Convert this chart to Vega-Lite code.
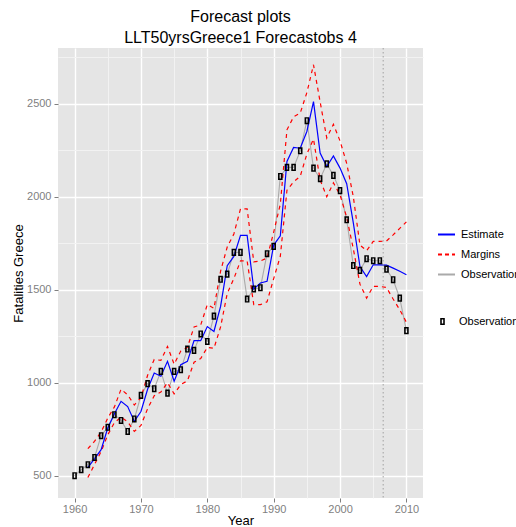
{
  "$schema": "https://vega.github.io/schema/vega-lite/v6.json",
  "width": 365,
  "height": 450,
  "autosize": "none",
  "padding": {"left": 58, "top": 48, "right": 93, "bottom": 29},
  "background": "white",
  "title": {
    "text": ["Forecast plots", "LLT50yrsGreece1 Forecastobs 4"],
    "font": "Liberation Sans",
    "fontSize": 16,
    "fontWeight": "normal",
    "color": "black",
    "lineHeight": 21,
    "offset": 2,
    "anchor": "middle"
  },
  "config": {
    "view": {"fill": "#E5E5E5", "stroke": null},
    "axis": {
      "labelFont": "Liberation Sans",
      "labelFontSize": 11,
      "labelColor": "#7F7F7F",
      "titleFont": "Liberation Sans",
      "titleFontSize": 13,
      "titleFontWeight": "normal",
      "titleColor": "black",
      "tickColor": "#7F7F7F",
      "tickSize": 4,
      "domain": false,
      "gridColor": "#FFFFFF",
      "gridWidth": 1.4
    },
    "legend": {
      "labelFont": "Liberation Sans",
      "labelFontSize": 11,
      "labelColor": "black"
    }
  },
  "datasets": {
    "fc": [
      {"Year": 1960, "Observed": 500, "Estimate": null, "Upper": null, "Lower": null},
      {"Year": 1961, "Observed": 532, "Estimate": null, "Upper": null, "Lower": null},
      {"Year": 1962, "Observed": 559, "Estimate": 545, "Upper": 645, "Lower": 490},
      {"Year": 1963, "Observed": 598, "Estimate": 590, "Upper": 685, "Lower": 560},
      {"Year": 1964, "Observed": 715, "Estimate": 640, "Upper": 735, "Lower": 630},
      {"Year": 1965, "Observed": 760, "Estimate": 756, "Upper": 810, "Lower": 720},
      {"Year": 1966, "Observed": 828, "Estimate": 833, "Upper": 870, "Lower": 785},
      {"Year": 1967, "Observed": 797, "Estimate": 900, "Upper": 965, "Lower": 815},
      {"Year": 1968, "Observed": 738, "Estimate": 872, "Upper": 935, "Lower": 790},
      {"Year": 1969, "Observed": 805, "Estimate": 792, "Upper": 880, "Lower": 738},
      {"Year": 1970, "Observed": 932, "Estimate": 845, "Upper": 920, "Lower": 770},
      {"Year": 1971, "Observed": 995, "Estimate": 965, "Upper": 1040, "Lower": 860},
      {"Year": 1972, "Observed": 968, "Estimate": 1052, "Upper": 1125, "Lower": 930},
      {"Year": 1973, "Observed": 1061, "Estimate": 1035, "Upper": 1120, "Lower": 950},
      {"Year": 1974, "Observed": 944, "Estimate": 1115, "Upper": 1195, "Lower": 1000},
      {"Year": 1975, "Observed": 1061, "Estimate": 1008, "Upper": 1100, "Lower": 940},
      {"Year": 1976, "Observed": 1070, "Estimate": 1097, "Upper": 1170, "Lower": 990},
      {"Year": 1977, "Observed": 1181, "Estimate": 1115, "Upper": 1190, "Lower": 1010},
      {"Year": 1978, "Observed": 1174, "Estimate": 1226, "Upper": 1300, "Lower": 1110},
      {"Year": 1979, "Observed": 1262, "Estimate": 1226, "Upper": 1310, "Lower": 1130},
      {"Year": 1980, "Observed": 1222, "Estimate": 1302, "Upper": 1420, "Lower": 1190},
      {"Year": 1981, "Observed": 1358, "Estimate": 1276, "Upper": 1400, "Lower": 1185},
      {"Year": 1982, "Observed": 1556, "Estimate": 1410, "Upper": 1600, "Lower": 1300},
      {"Year": 1983, "Observed": 1584, "Estimate": 1629, "Upper": 1730, "Lower": 1480},
      {"Year": 1984, "Observed": 1701, "Estimate": 1679, "Upper": 1800, "Lower": 1560},
      {"Year": 1985, "Observed": 1701, "Estimate": 1792, "Upper": 1935, "Lower": 1655},
      {"Year": 1986, "Observed": 1450, "Estimate": 1792, "Upper": 1935, "Lower": 1655},
      {"Year": 1987, "Observed": 1504, "Estimate": 1504, "Upper": 1650, "Lower": 1420},
      {"Year": 1988, "Observed": 1511, "Estimate": 1536, "Upper": 1655, "Lower": 1420},
      {"Year": 1989, "Observed": 1694, "Estimate": 1545, "Upper": 1670, "Lower": 1435},
      {"Year": 1990, "Observed": 1733, "Estimate": 1740, "Upper": 1810, "Lower": 1560},
      {"Year": 1991, "Observed": 2109, "Estimate": 1790, "Upper": 1960, "Lower": 1680},
      {"Year": 1992, "Observed": 2158, "Estimate": 2190, "Upper": 2360, "Lower": 2035},
      {"Year": 1993, "Observed": 2158, "Estimate": 2265, "Upper": 2430, "Lower": 2080},
      {"Year": 1994, "Observed": 2247, "Estimate": 2261, "Upper": 2450, "Lower": 2110},
      {"Year": 1995, "Observed": 2409, "Estimate": 2351, "Upper": 2560, "Lower": 2230},
      {"Year": 1996, "Observed": 2154, "Estimate": 2512, "Upper": 2710, "Lower": 2310},
      {"Year": 1997, "Observed": 2097, "Estimate": 2235, "Upper": 2510, "Lower": 2090},
      {"Year": 1998, "Observed": 2177, "Estimate": 2163, "Upper": 2316, "Lower": 2000},
      {"Year": 1999, "Observed": 2115, "Estimate": 2220, "Upper": 2390, "Lower": 2075},
      {"Year": 2000, "Observed": 2033, "Estimate": 2154, "Upper": 2300, "Lower": 2010},
      {"Year": 2001, "Observed": 1876, "Estimate": 2070, "Upper": 2180, "Lower": 1890},
      {"Year": 2002, "Observed": 1630, "Estimate": 1860, "Upper": 2000, "Lower": 1720},
      {"Year": 2003, "Observed": 1604, "Estimate": 1625, "Upper": 1740, "Lower": 1530},
      {"Year": 2004, "Observed": 1667, "Estimate": 1571, "Upper": 1710, "Lower": 1455},
      {"Year": 2005, "Observed": 1656, "Estimate": 1634, "Upper": 1760, "Lower": 1518},
      {"Year": 2006, "Observed": 1656, "Estimate": 1634, "Upper": 1760, "Lower": 1518},
      {"Year": 2007, "Observed": 1611, "Estimate": 1632, "Upper": 1762, "Lower": 1512},
      {"Year": 2008, "Observed": 1554, "Estimate": 1616, "Upper": 1795, "Lower": 1450},
      {"Year": 2009, "Observed": 1455, "Estimate": 1599, "Upper": 1830, "Lower": 1392},
      {"Year": 2010, "Observed": 1280, "Estimate": 1581, "Upper": 1865, "Lower": 1325}
    ],
    "cut": [{"ForecastStart": 2006.5}]
  },
  "data": {"name": "fc"},
  "resolve": {"axis": {"x": "independent", "y": "independent"}},
  "layer": [
    {
      "mark": {"type": "line", "strokeWidth": 1.1},
      "encoding": {
        "x": {
          "field": "Year", "type": "quantitative",
          "scale": {"domain": [1957.5, 2012.5], "nice": false, "zero": false},
          "axis": {"orient": "bottom", "title": "Year", "values": [1960, 1970, 1980, 1990, 2000, 2010], "format": "d", "grid": true, "labelPadding": 1, "titlePadding": 0}
        },
        "y": {
          "field": "Observed", "type": "quantitative",
          "scale": {"domain": [380, 2800], "nice": false, "zero": false},
          "axis": {"orient": "left", "title": "Fatalities Greece", "values": [500, 1000, 1500, 2000, 2500], "format": "d", "grid": true, "labelPadding": 3, "titlePadding": 1}
        },
        "color": {
          "datum": "Observations",
          "scale": {"domain": ["Estimate", "Margins", "Observations"], "range": ["#0000FF", "#FF0000", "#AAAAAA"]},
          "legend": {
            "title": null, "orient": "none", "legendX": 379, "legendY": 177,
            "symbolType": "stroke", "symbolSize": 289, "symbolStrokeWidth": 1.8,
            "rowPadding": 5, "labelOffset": 5,
            "encode": {"symbols": {"update": {"strokeDash": {"signal": "datum.value === 'Margins' ? [4, 3] : [1, 0]"}}}}
          }
        }
      }
    },
    {
      "mark": {"type": "line", "strokeWidth": 1.2, "strokeDash": [4, 4]},
      "encoding": {
        "x": {
          "field": "Year", "type": "quantitative",
          "axis": {"orient": "bottom", "title": null, "values": [1965, 1975, 1985, 1995, 2005], "labels": false, "ticks": false, "domain": false, "grid": true, "gridColor": "#F2F2F2", "gridWidth": 1}
        },
        "y": {
          "field": "Upper", "type": "quantitative",
          "axis": {"orient": "left", "title": null, "values": [750, 1250, 1750, 2250, 2750], "labels": false, "ticks": false, "domain": false, "grid": true, "gridColor": "#F2F2F2", "gridWidth": 1}
        },
        "color": {"datum": "Margins"}
      }
    },
    {
      "mark": {"type": "line", "strokeWidth": 1.2, "strokeDash": [4, 4]},
      "encoding": {
        "x": {"field": "Year", "type": "quantitative", "axis": null},
        "y": {"field": "Lower", "type": "quantitative", "axis": null},
        "color": {"datum": "Margins"}
      }
    },
    {
      "mark": {"type": "line", "strokeWidth": 1.2},
      "encoding": {
        "x": {"field": "Year", "type": "quantitative", "axis": null},
        "y": {"field": "Estimate", "type": "quantitative", "axis": null},
        "color": {"datum": "Estimate"}
      }
    },
    {
      "data": {"name": "cut"},
      "mark": {"type": "rule", "color": "#A0A0A0", "strokeWidth": 1, "strokeDash": [1.5, 2.5]},
      "encoding": {
        "x": {"field": "ForecastStart", "type": "quantitative", "axis": null}
      }
    },
    {
      "mark": {"type": "point", "filled": true, "color": "black", "opacity": 1, "size": 50},
      "encoding": {
        "x": {"field": "Year", "type": "quantitative", "axis": null},
        "y": {"field": "Observed", "type": "quantitative", "axis": null},
        "shape": {
          "datum": "Observations",
          "scale": {"domain": ["Observations"], "range": ["M-0.65,-1H0.65V1H-0.65Z M-0.2,-0.6V0.6H0.2V-0.6Z"]},
          "legend": {"title": null, "orient": "none", "legendX": 379, "legendY": 268, "symbolSize": 50, "symbolFillColor": "black", "symbolStrokeWidth": 0, "labelOffset": 11}
        }
      }
    }
  ]
}
